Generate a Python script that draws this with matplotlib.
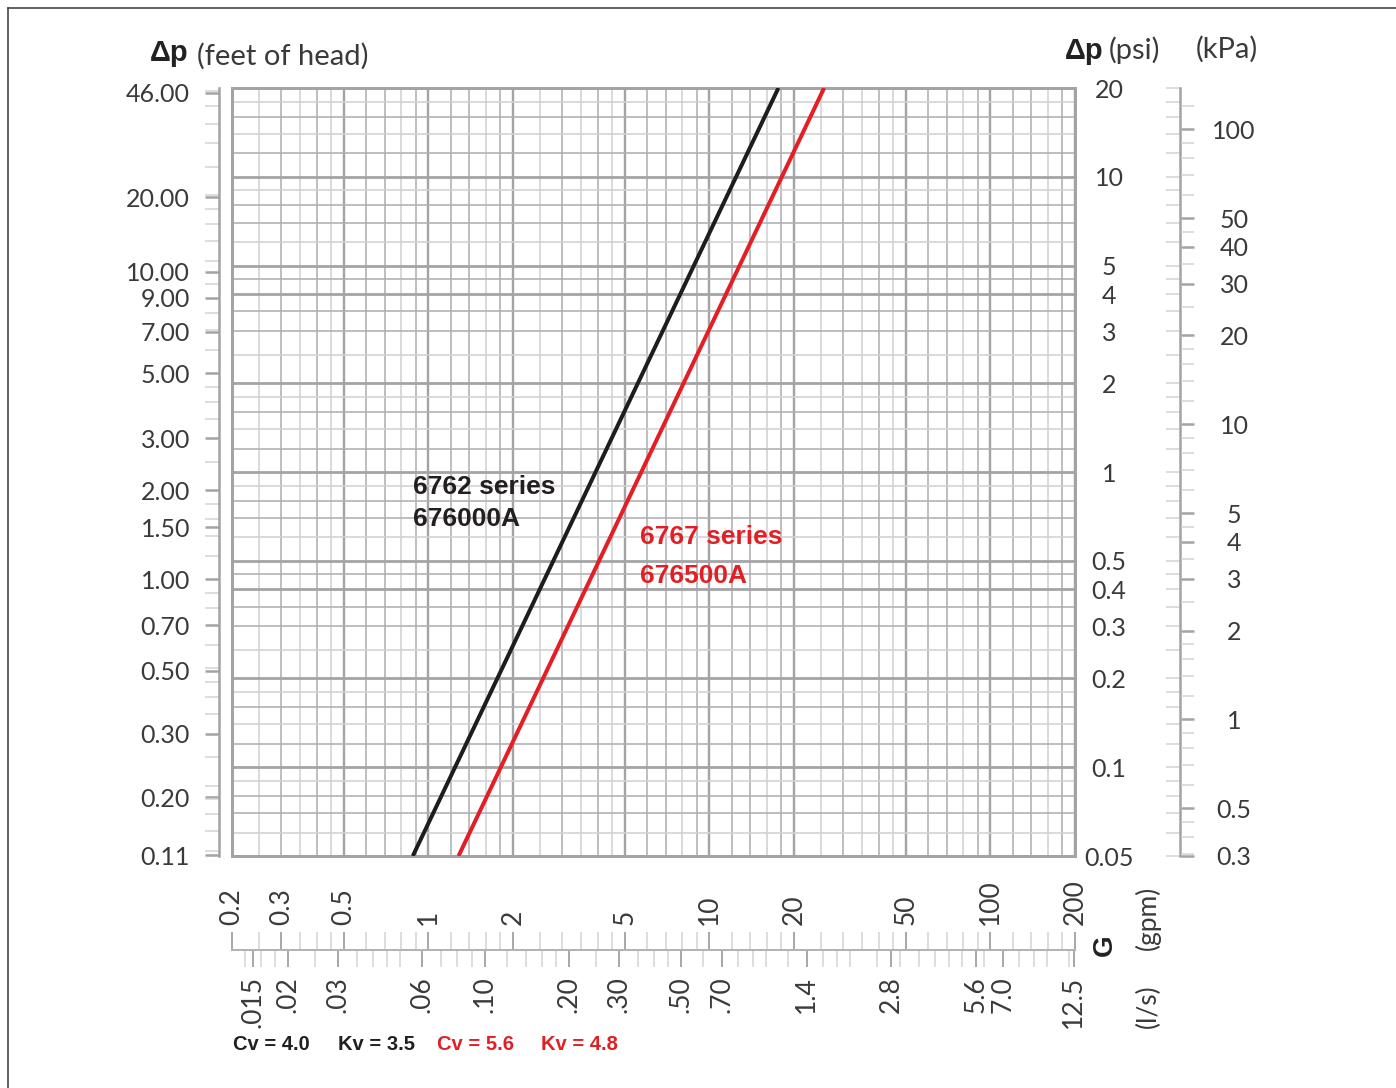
import numpy as np
import matplotlib
matplotlib.use("Agg")
import matplotlib.pyplot as plt
from matplotlib.lines import Line2D
from matplotlib.ticker import NullFormatter, NullLocator

# данные
gpm_black = [0.88, 17.6]
dp_black = [0.05, 20.0]
gpm_red = [1.28, 25.6]
dp_red = [0.05, 20.0]

gpm_ticks = [0.2, 0.3, 0.5, 1, 2, 5, 10, 20, 50, 100, 200]
gpm_labels = ["0.2", "0.3", "0.5", "1", "2", "5", "10", "20", "50", "100", "200"]
ls_ticks = [0.015, 0.02, 0.03, 0.06, 0.10, 0.20, 0.30, 0.50, 0.70, 1.4, 2.8, 5.6, 7.0, 12.5]
ls_labels = [".015", ".02", ".03", ".06", ".10", ".20", ".30", ".50", ".70", "1.4", "2.8", "5.6", "7.0", "12.5"]
psi_ticks = [20, 10, 5, 4, 3, 2, 1, 0.5, 0.4, 0.3, 0.2, 0.1, 0.05]
psi_labels = ["20", "10", "5", "4", "3", "2", "1", "0.5", "0.4", "0.3", "0.2", "0.1", "0.05"]
ft_ticks = [44.5, 19.7, 11.0, 9.0, 6.9, 5.0, 3.0, 2.0, 1.5, 1.0, 0.7, 0.49, 0.3, 0.183, 0.116]
ft_labels = ["46.00", "20.00", "10.00", "9.00", "7.00", "5.00", "3.00", "2.00", "1.50",
             "1.00", "0.70", "0.50", "0.30", "0.20", "0.11"]
kpa_ticks = [100, 50, 40, 30, 20, 10, 5, 4, 3, 2, 1, 0.5, 0.345]
kpa_labels = ["100", "50", "40", "30", "20", "10", "5", "4", "3", "2", "1", "0.5", "0.3"]

PSI_TO_FT = 2.31
PSI_TO_KPA = 6.895
GPM_TO_LS = 0.06309

MANT = [1, 1.2, 1.4, 1.6, 1.8, 2, 2.5, 3, 3.5, 4, 4.5, 5, 6, 7, 8, 9]

W, H = 1396, 1088
plt.rcParams["font.family"] = ["Lato", "DejaVu Sans"]
plt.rcParams["font.weight"] = "normal"

TXT = "#3a3a3a"
GRID = "#b0b0b2"
GRID_LIGHT = "#d2d2d4"
GRID_DARK = "#a4a4a6"
BOLD = dict(family=["Liberation Sans", "DejaVu Sans"], weight="bold")

fig = plt.figure(figsize=(W / 100, H / 100), dpi=100)


def box(x0, y0, x1, y1):
    return [x0 / W, 1 - y1 / H, (x1 - x0) / W, (y1 - y0) / H]


def px(x, y):
    return x / W, 1 - y / H


def pt(p):
    return p * 72 / 100


def log_grid(lo, hi):
    d0, d1 = int(np.floor(np.log10(lo))), int(np.ceil(np.log10(hi)))
    vals = [m * 10.0 ** d for d in range(d0, d1 + 1) for m in MANT]
    return [v for v in vals if lo * 0.999 <= v <= hi * 1.001]


def mant(v):
    return round(v / 10 ** np.floor(np.log10(v) + 1e-9), 2)


# основная сетка
ax = fig.add_axes(box(232, 88, 1075, 856))
ax.set_xscale("log")
ax.set_yscale("log")
ax.set_xlim(0.2, 200)
ax.set_ylim(0.05, 20)

for v in log_grid(0.2, 200):
    m = mant(v)
    if m in (1, 2, 5):
        ax.axvline(v, color=GRID_DARK, lw=pt(2.4), zorder=1)
    elif m in (1.6, 2.5, 3.5, 4.5, 8):
        ax.axvline(v, color=GRID_LIGHT, lw=pt(1.6), zorder=1)
    else:
        ax.axvline(v, color=GRID, lw=pt(1.6), zorder=1)

for v in log_grid(0.05, 20):
    m = mant(v)
    if m in (1, 2, 4, 5):
        ax.axhline(v, color=GRID_DARK, lw=pt(2.8), zorder=1)
    elif m in (1.4, 1.8, 2.5, 6, 9):
        ax.axhline(v, color=GRID_LIGHT, lw=pt(1.6), zorder=1)
    else:
        ax.axhline(v, color=GRID, lw=pt(1.6), zorder=1)

for s in ax.spines.values():
    s.set_color("#a3a3a5")
    s.set_linewidth(pt(3))
    s.set_zorder(2)

ax.plot(gpm_black, dp_black, color="#1d1d1b", lw=pt(4), zorder=4, solid_capstyle="butt")
ax.plot(gpm_red, dp_red, color="#e31e24", lw=pt(4), zorder=4, solid_capstyle="butt")

ax.xaxis.set_major_locator(NullLocator())
ax.xaxis.set_minor_locator(NullLocator())
ax.yaxis.set_minor_locator(NullLocator())
ax.set_yticks(psi_ticks, labels=psi_labels)
ax.yaxis.tick_right()
ax.tick_params(axis="y", length=0, pad=pt(34), labelsize=18, labelcolor=TXT)
for lab in ax.get_yticklabels():
    lab.set_ha("center")

# шкала в футах слева
ax_ft = fig.add_axes(box(219, 88, 220, 856))
ax_ft.set_yscale("log")
ax_ft.set_ylim(0.05 * PSI_TO_FT, 20 * PSI_TO_FT)
ax_ft.patch.set_visible(False)
for k, s in ax_ft.spines.items():
    s.set_visible(k == "left")
ax_ft.spines["left"].set_color("#a3a3a5")
ax_ft.spines["left"].set_linewidth(pt(2.5))
ax_ft.set_xticks([])
ax_ft.set_yticks(ft_ticks, labels=ft_labels)
ax_ft.set_yticks(log_grid(0.05 * PSI_TO_FT, 20 * PSI_TO_FT), minor=True)
ax_ft.yaxis.set_minor_formatter(NullFormatter())
ax_ft.tick_params(axis="y", which="major", direction="out", length=pt(14), width=pt(2.5),
                  color=GRID_DARK, pad=pt(15), labelsize=18, labelcolor=TXT)
ax_ft.tick_params(axis="y", which="minor", direction="out", length=pt(14), width=pt(1.5),
                  color=GRID_LIGHT)

# шкала кПа справа
ax_k = fig.add_axes(box(1180, 88, 1181, 856))
ax_k.set_yscale("log")
ax_k.set_ylim(0.05, 20)
ax_k.patch.set_visible(False)
for k, s in ax_k.spines.items():
    s.set_visible(k == "left")
ax_k.spines["left"].set_color("#a3a3a5")
ax_k.spines["left"].set_linewidth(pt(2.5))
ax_k.set_xticks([])
ax_k.yaxis.set_major_locator(NullLocator())
ax_k.set_yticks(log_grid(0.05, 20), minor=True)
ax_k.yaxis.set_minor_formatter(NullFormatter())
ax_k.tick_params(axis="y", which="minor", direction="out", length=pt(14), width=pt(1.5),
                 color=GRID_LIGHT)

ax_k2 = ax_k.twinx()
ax_k2.set_yscale("log")
ax_k2.set_ylim(0.05 * PSI_TO_KPA, 20 * PSI_TO_KPA)
for k, s in ax_k2.spines.items():
    s.set_visible(False)
ax_k2.set_yticks(kpa_ticks, labels=kpa_labels)
ax_k2.set_yticks(log_grid(0.05 * PSI_TO_KPA, 20 * PSI_TO_KPA), minor=True)
ax_k2.yaxis.set_minor_formatter(NullFormatter())
ax_k2.tick_params(axis="y", which="major", direction="out", length=pt(13), width=pt(2.5),
                  color=GRID_DARK, pad=pt(40), labelsize=18, labelcolor=TXT)
ax_k2.tick_params(axis="y", which="minor", direction="out", length=pt(13), width=pt(1.5),
                  color=GRID_LIGHT)
for lab in ax_k2.get_yticklabels():
    lab.set_ha("center")

# нижняя шкала расхода
ax_ls = fig.add_axes(box(232, 949, 1075, 950))
ax_ls.set_xscale("log")
ax_ls.set_xlim(0.2 * GPM_TO_LS, 200 * GPM_TO_LS)
ax_ls.patch.set_visible(False)
for k, s in ax_ls.spines.items():
    s.set_visible(k == "bottom")
ax_ls.spines["bottom"].set_color("#b3b3b5")
ax_ls.spines["bottom"].set_linewidth(pt(2))
ax_ls.set_yticks([])
ax_ls.set_xticks(ls_ticks, labels=ls_labels, rotation=90)
ax_ls.set_xticks(log_grid(0.2 * GPM_TO_LS, 200 * GPM_TO_LS), minor=True)
ax_ls.xaxis.set_minor_formatter(NullFormatter())
ax_ls.tick_params(axis="x", which="major", direction="out", length=pt(17), width=pt(2),
                  color="#a9a9ab", pad=pt(9), labelsize=19, labelcolor=TXT)
ax_ls.tick_params(axis="x", which="minor", direction="out", length=pt(17), width=pt(1.5),
                  color=GRID_LIGHT)

ax_g = ax_ls.twiny()
ax_g.set_xscale("log")
ax_g.set_xlim(0.2, 200)
for s in ax_g.spines.values():
    s.set_visible(False)
ax_g.set_xticks(gpm_ticks, labels=gpm_labels, rotation=90)
ax_g.set_xticks(log_grid(0.2, 200), minor=True)
ax_g.xaxis.set_minor_formatter(NullFormatter())
ax_g.tick_params(axis="x", which="major", direction="out", length=pt(17), width=pt(2),
                 color="#a9a9ab", pad=pt(7), labelsize=19, labelcolor=TXT)
ax_g.tick_params(axis="x", which="minor", direction="out", length=pt(17), width=pt(1.5),
                 color=GRID_LIGHT)

# подписи осей
fig.text(*px(150, 53), "Δp", fontsize=21, color="#222222", va="center", ha="left", **BOLD)
fig.text(*px(197, 56), "(feet of head)", fontsize=21, color=TXT, va="center", ha="left")
fig.text(*px(1065, 51), "Δp", fontsize=21, color="#222222", va="center", ha="left", **BOLD)
fig.text(*px(1109, 50), "(psi)", fontsize=21, color=TXT, va="center", ha="left")
fig.text(*px(1196, 49), "(kPa)", fontsize=21, color=TXT, va="center", ha="left")

fig.text(*px(1105, 945), "G", fontsize=20, color="#222222", rotation=90,
         va="center", ha="center", **BOLD)
fig.text(*px(1148, 918), "(gpm)", fontsize=19, color=TXT, rotation=90, va="center", ha="center")
fig.text(*px(1148, 1006), "(l/s)", fontsize=19, color=TXT, rotation=90, va="center", ha="center")

# подписи серий
fig.text(*px(413, 487), "6762 series", fontsize=19, color="#231f20", va="center", **BOLD)
fig.text(*px(413, 519), "676000A", fontsize=19, color="#231f20", va="center", **BOLD)
fig.text(*px(640, 537), "6767 series", fontsize=19, color="#e31e24", va="center", **BOLD)
fig.text(*px(640, 576), "676500A", fontsize=19, color="#e31e24", va="center", **BOLD)

fig.text(*px(233, 1045), "Cv = 4.0", fontsize=14.5, color="#231f20", va="center", **BOLD)
fig.text(*px(338, 1045), "Kv = 3.5", fontsize=14.5, color="#231f20", va="center", **BOLD)
fig.text(*px(437, 1045), "Cv = 5.6", fontsize=14.5, color="#e31e24", va="center", **BOLD)
fig.text(*px(541, 1045), "Kv = 4.8", fontsize=14.5, color="#e31e24", va="center", **BOLD)

# рамка
fig.add_artist(Line2D([8 / W, 8 / W], [0, 1 - 8 / H], color="#333333", lw=pt(1.5)))
fig.add_artist(Line2D([8 / W, 1], [1 - 8 / H, 1 - 8 / H], color="#333333", lw=pt(1.5)))

fig.savefig("out.png", dpi=100)
